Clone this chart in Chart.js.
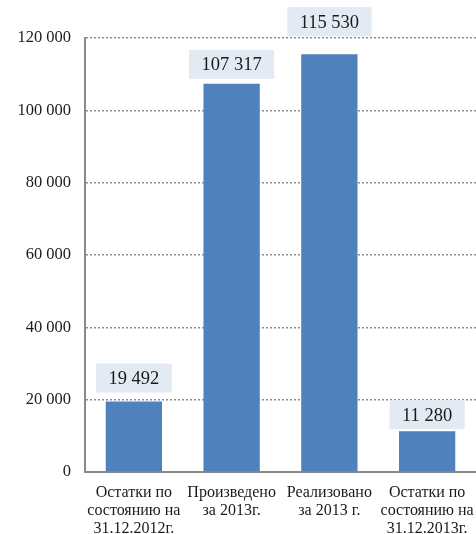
<!DOCTYPE html>
<html>
<head>
<meta charset="utf-8">
<script src="https://cdn.jsdelivr.net/npm/chart.js@4/dist/chart.umd.min.js"></script>
<style>
  html, body { margin: 0; padding: 0; background: #fff; }
  #wrap { width: 476px; height: 534px; }
</style>
</head>
<body>
<div id="wrap"><canvas id="chart" width="476" height="534"></canvas></div>
<script>
const categories = [
  ['Остатки по', 'состоянию на', '31.12.2012г.'],
  ['Произведено', 'за 2013г.'],
  ['Реализовано', 'за 2013 г.'],
  ['Остатки по', 'состоянию на', '31.12.2013г.']
];
const values = [19492, 107317, 115530, 11280];
const yMax = 120000;
const yStep = 20000;

const fmt = v => String(v).replace(/\B(?=(\d{3})+(?!\d))/g, ' ');
const FONT = '"Liberation Serif", "DejaVu Serif", serif';

// boxed value labels above bars
const boxLabels = {
  id: 'boxLabels',
  afterDatasetsDraw(chart, args, opts) {
    const ctx = chart.ctx;
    const meta = chart.getDatasetMeta(0);
    ctx.save();
    ctx.font = '18.5px ' + FONT;
    ctx.textAlign = 'center';
    ctx.textBaseline = 'middle';
    meta.data.forEach((bar, i) => {
      const text = fmt(values[i]);
      const w = ctx.measureText(text).width + 2 * opts.padX;
      const h = opts.height;
      const bottom = bar.y - opts.gaps[i];
      ctx.fillStyle = opts.background;
      ctx.fillRect(bar.x - w / 2, bottom - h, w, h);
      ctx.fillStyle = '#1a1a1a';
      ctx.fillText(text, bar.x, bottom - h / 2 + 1);
    });
    ctx.restore();
  }
};

new Chart(document.getElementById('chart'), {
  type: 'bar',
  data: {
    labels: categories,
    datasets: [{
      data: values,
      backgroundColor: '#4f81bd',
      borderWidth: 0,
      barPercentage: 0.8,
      categoryPercentage: 0.72
    }]
  },
  options: {
    responsive: false,
    animation: false,
    layout: { padding: { top: 38, right: 0, left: 0, bottom: 0 } },
    scales: {
      x: {
        grid: { display: false, drawTicks: false },
        border: { display: true, color: '#8a8a8a', width: 2 },
        ticks: {
          color: '#1a1a1a',
          padding: 12,
          maxRotation: 0,
          autoSkip: false,
          font: { family: FONT, size: 16, lineHeight: 1.12 }
        },
        afterFit: s => {
          s.height = 62;
          s.paddingLeft = 0;
          s.paddingRight = 0;
        }
      },
      y: {
        min: 0,
        max: yMax,
        grid: {
          color: '#8c8c8c',
          lineWidth: 1.5,
          drawTicks: false
        },
        border: { display: true, color: '#8a8a8a', width: 2, dash: [2, 2] },
        ticks: {
          stepSize: yStep,
          color: '#1a1a1a',
          padding: 14,
          font: { family: FONT, size: 16.5 },
          callback: v => fmt(v)
        },
        afterFit: s => { s.width = 85; }
      }
    },
    plugins: {
      legend: { display: false },
      tooltip: { enabled: false },
      boxLabels: {
        background: '#e4eaf4',
        padX: 12.5,
        height: 29,
        gaps: [9, 5, 18, 2]
      }
    }
  },
  plugins: [boxLabels]
});
</script>
</body>
</html>
